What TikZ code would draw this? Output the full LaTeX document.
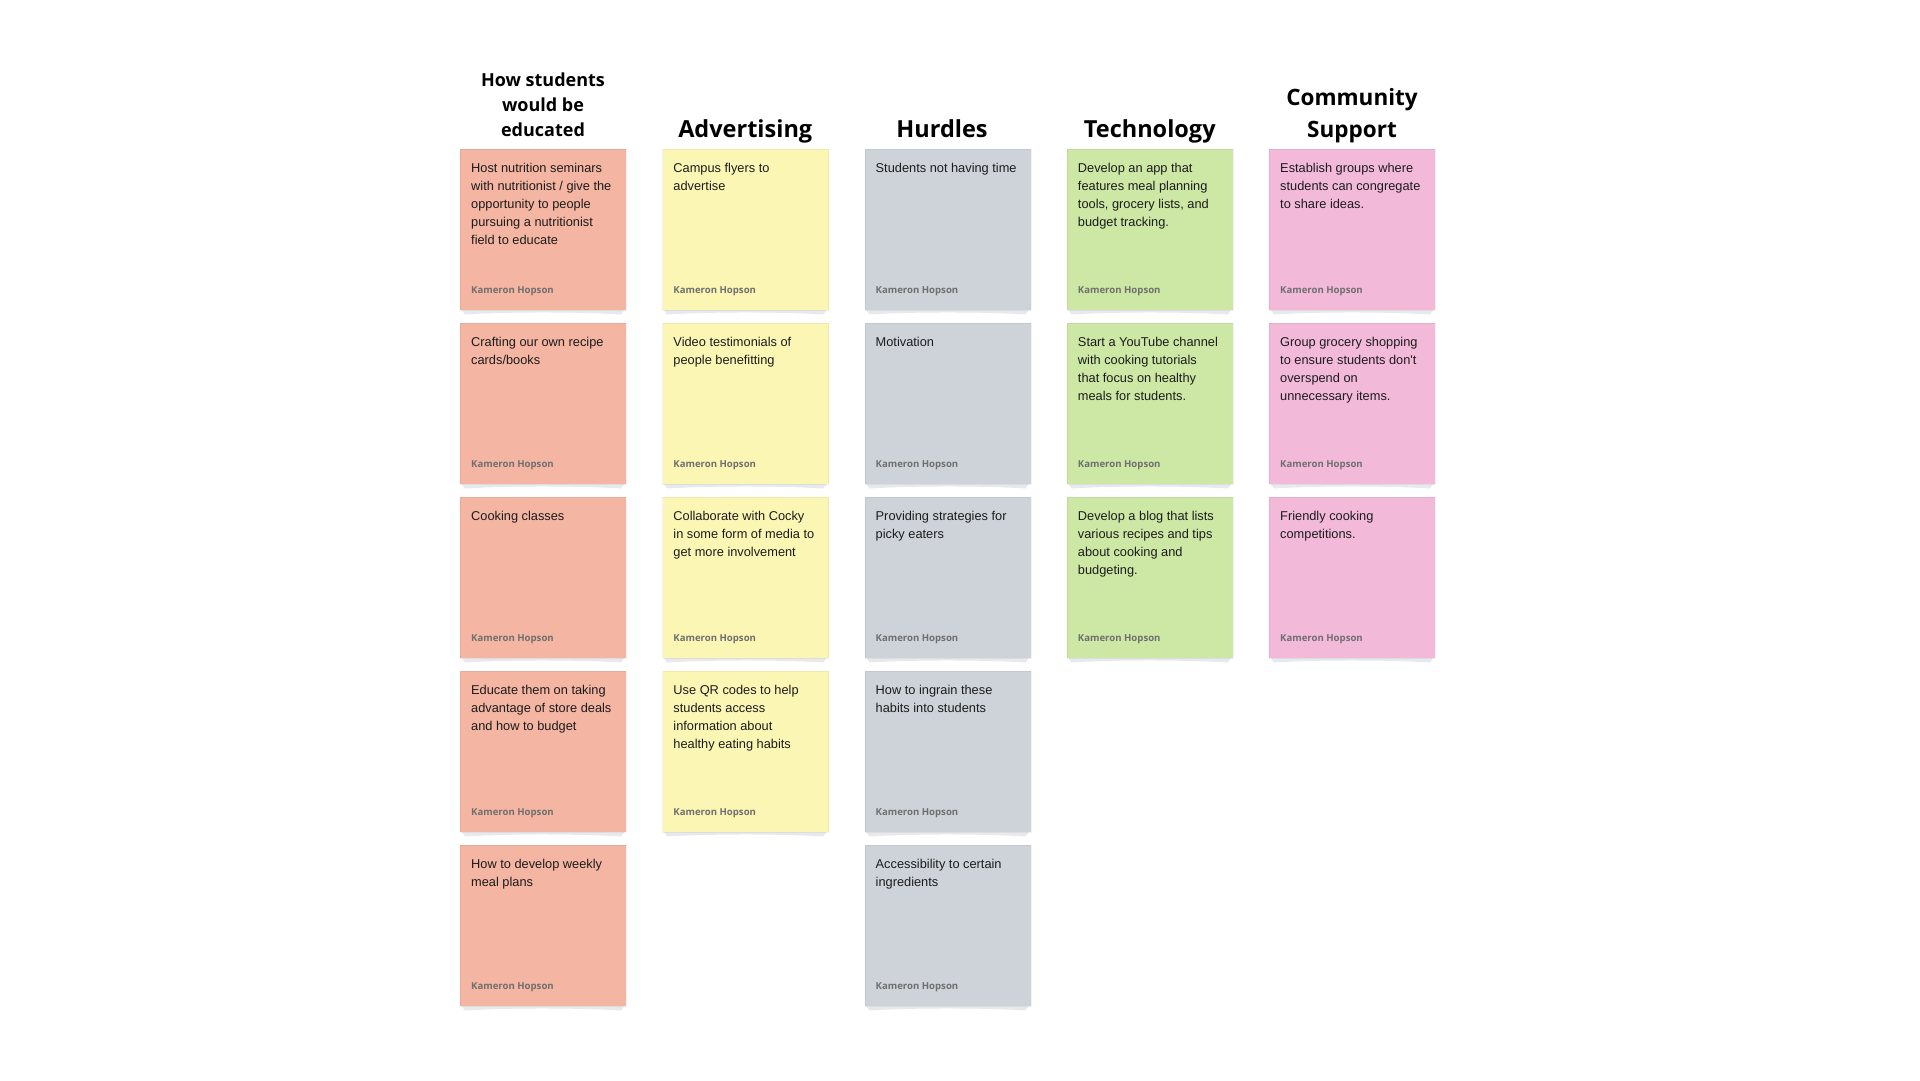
\documentclass[tikz,border=0pt]{standalone}
\usepackage{fontspec}
\setmainfont{Liberation Sans}
\newfontfamily\headfont{Open Sans}
\usetikzlibrary{calc}

\definecolor{salmon}{HTML}{F4B5A2}
\definecolor{lemon}{HTML}{FCF6B4}
\definecolor{slate}{HTML}{CED3DA}
\definecolor{lime}{HTML}{CDE7A5}
\definecolor{rose}{HTML}{F2B9D9}
\definecolor{curl}{HTML}{E8E9EC}
\definecolor{ink}{HTML}{1C1C1C}
\definecolor{signature}{HTML}{6F6F6F}

% one sticky note: column, row, colour, text
\newcommand\stickynote[4]{%
  \pgfmathsetmacro\nx{460+202.25*(#1-1)}%
  \pgfmathsetmacro\ny{149+174*(#2-1)}%
  \fill[curl] (\nx+1,\ny+160) -- (\nx+165,\ny+160) -- (\nx+161,\ny+165.5)
    .. controls (\nx+120,\ny+162.8) and (\nx+46,\ny+162.8) .. (\nx+5,\ny+165.5) -- cycle;
  \node[notebox, fill=#3] (note#1#2) at (\nx,\ny) {};
  \node[notetext] (text#1#2) at ([shift={(11pt,-23pt)}]note#1#2.north west)
    {\parbox[t]{152pt}{\raggedright #4}};
  \node[author] (author#1#2) at ([shift={(11pt,-144.5pt)}]note#1#2.north west) {Kameron Hopson};
}

\begin{document}
\begin{tikzpicture}[x=1pt, y=-1pt,
  notebox/.style={anchor=north west, minimum width=166pt, minimum height=160.5pt,
    inner sep=0pt, draw=black, draw opacity=0.05, line width=0.8pt},
  notetext/.style={anchor=base west, inner sep=0pt, text=ink,
    font=\fontsize{12.8}{18}\selectfont},
  author/.style={anchor=base west, inner sep=0pt, text=signature,
    font=\headfont\bfseries\fontsize{9.6}{11}\selectfont},
  heading/.style={anchor=base, inner sep=0pt, text=black,
    font=\headfont\bfseries\fontsize{23.5}{28}\selectfont},
  headingmid/.style={anchor=base, inner sep=0pt, text=black, align=center,
    font=\headfont\bfseries\fontsize{22.5}{32}\selectfont},
  headingsmall/.style={anchor=base, inner sep=0pt, text=black, align=center,
    font=\headfont\bfseries\fontsize{18}{25}\selectfont}]

\useasboundingbox[fill=white] (0,0) rectangle (1920,1080);

% column headings
\node[headingsmall] (head1) at (543,136)
  {\parbox[b]{200pt}{\centering How students\\would be\\educated}};
\node[heading] (head2) at (745.25,137) {Advertising};
\node[heading] (head3) at (942,137) {Hurdles};
\node[heading] (head4) at (1149.75,137) {Technology};
\node[headingmid] (head5) at (1352,137)
  {\parbox[b]{200pt}{\centering Community\\Support}};

% how students would be educated
\stickynote{1}{1}{salmon}{Host nutrition seminars\\with nutritionist / give the\\opportunity to people\\pursuing a nutritionist\\field to educate}
\stickynote{1}{2}{salmon}{Crafting our own recipe\\cards/books}
\stickynote{1}{3}{salmon}{Cooking classes}
\stickynote{1}{4}{salmon}{Educate them on taking\\advantage of store deals\\and how to budget}
\stickynote{1}{5}{salmon}{How to develop weekly\\meal plans}

% advertising
\stickynote{2}{1}{lemon}{Campus flyers to\\advertise}
\stickynote{2}{2}{lemon}{Video testimonials of\\people benefitting}
\stickynote{2}{3}{lemon}{Collaborate with Cocky\\in some form of media to\\get more involvement}
\stickynote{2}{4}{lemon}{Use QR codes to help\\students access\\information about\\healthy eating habits}

% hurdles
\stickynote{3}{1}{slate}{Students not having time}
\stickynote{3}{2}{slate}{Motivation}
\stickynote{3}{3}{slate}{Providing strategies for\\picky eaters}
\stickynote{3}{4}{slate}{How to ingrain these\\habits into students}
\stickynote{3}{5}{slate}{Accessibility to certain\\ingredients}

% technology
\stickynote{4}{1}{lime}{Develop an app that\\features meal planning\\tools, grocery lists, and\\budget tracking.}
\stickynote{4}{2}{lime}{Start a YouTube channel\\with cooking tutorials\\that focus on healthy\\meals for students.}
\stickynote{4}{3}{lime}{Develop a blog that lists\\various recipes and tips\\about cooking and\\budgeting.}

% community support
\stickynote{5}{1}{rose}{Establish groups where\\students can congregate\\to share ideas.}
\stickynote{5}{2}{rose}{Group grocery shopping\\to ensure students don\textquotesingle t\\overspend on\\unnecessary items.}
\stickynote{5}{3}{rose}{Friendly cooking\\competitions.}

\end{tikzpicture}
\end{document}
